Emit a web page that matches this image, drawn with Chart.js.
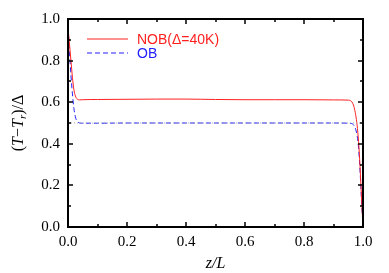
<!DOCTYPE html>
<html>
<head>
<meta charset="utf-8">
<script src="https://cdn.jsdelivr.net/npm/chart.js@4/dist/chart.umd.min.js"></script>
<style>
  html, body { margin: 0; padding: 0; background: #fff; }
  #wrap { width: 389px; height: 273px; }
</style>
</head>
<body>
<div id="wrap"><canvas id="grafico"></canvas></div>
<script>
// posições z/L
const zL = [0, 0.005, 0.01, 0.015, 0.02, 0.025, 0.03, 0.035, 0.04, 0.05, 0.1, 0.2, 0.3, 0.4, 0.5,
  0.6, 0.7, 0.8, 0.9, 0.95, 0.96, 0.965, 0.97, 0.975, 0.98, 0.985, 0.99, 0.995, 1.0];
// NOB (Δ=40K)
const nob = [0.96, 0.88, 0.8, 0.72, 0.66, 0.63, 0.617, 0.612, 0.611, 0.612, 0.613, 0.614, 0.615, 0.615, 0.613,
  0.612, 0.612, 0.612, 0.611, 0.61, 0.605, 0.595, 0.575, 0.54, 0.49, 0.41, 0.29, 0.14, 0.0];
// OB
const ob = [0.96, 0.84, 0.73, 0.64, 0.57, 0.53, 0.51, 0.503, 0.5, 0.499, 0.499, 0.5, 0.5, 0.5, 0.5,
  0.5, 0.5, 0.5, 0.5, 0.499, 0.498, 0.495, 0.487, 0.47, 0.44, 0.38, 0.27, 0.13, 0.0];
// linha de referência
const refX = [0, 1];
const refY = [0.5, 0.5];

const xTicks = [0, 0.2, 0.4, 0.6, 0.8, 1.0];
const yTicks = [0, 0.2, 0.4, 0.6, 0.8, 1.0];
const legendas = ["NOB(\u0394=40K)", "OB"];

const serif = "'Liberation Serif', 'Times New Roman', serif";

function pontos(xs, ys) {
  return xs.map((x, i) => ({ x: x, y: ys[i] }));
}

// ticks para dentro nos quatro lados + legenda + título do eixo y
const moldura = {
  id: "moldura",
  afterDraw(chart) {
    const ctx = chart.ctx;
    const a = chart.chartArea;
    const sx = chart.scales.x, sy = chart.scales.y;
    ctx.save();
    ctx.strokeStyle = "#000";
    ctx.lineWidth = 2;
    ctx.strokeRect(a.left, a.top, a.right - a.left, a.bottom - a.top);
    ctx.lineWidth = 1.5;
    for (let i = 0; i <= 10; i++) {
      const v = i / 10;
      const len = i % 2 === 0 ? 5 : 3;
      const px = Math.round(sx.getPixelForValue(v));
      const py = Math.round(sy.getPixelForValue(v));
      ctx.beginPath();
      ctx.moveTo(px, a.bottom); ctx.lineTo(px, a.bottom - len);
      ctx.moveTo(px, a.top); ctx.lineTo(px, a.top + len);
      ctx.moveTo(a.left, py); ctx.lineTo(a.left + len, py);
      ctx.moveTo(a.right, py); ctx.lineTo(a.right - len, py);
      ctx.stroke();
    }

    // legenda
    const itens = [
      { txt: legendas[0], cor: "#ff2020", dash: [] },
      { txt: legendas[1], cor: "#2020ff", dash: [5, 3] }
    ];
    ctx.font = "14px 'Liberation Sans', Arial, sans-serif";
    ctx.textBaseline = "middle";
    itens.forEach((it, i) => {
      const y = a.top + 20 + i * 14;
      ctx.strokeStyle = it.cor;
      ctx.lineWidth = 1;
      ctx.setLineDash(it.dash);
      ctx.beginPath();
      ctx.moveTo(a.left + 19, y); ctx.lineTo(a.left + 60, y);
      ctx.stroke();
      ctx.setLineDash([]);
      ctx.fillStyle = it.cor;
      ctx.fillText(it.txt, a.left + 69, y + 1);
    });

    // título do eixo y: (T−T_r)/Δ
    ctx.translate(19, (a.top + a.bottom) / 2);
    ctx.rotate(-Math.PI / 2);
    ctx.fillStyle = "#000";
    ctx.textBaseline = "middle";
    const partes = [
      { t: "(", f: "16px " + serif, dy: 0 },
      { t: "T", f: "italic 16px " + serif, dy: 0 },
      { t: "\u2212", f: "16px " + serif, dy: 0 },
      { t: "T", f: "italic 16px " + serif, dy: 0 },
      { t: "r", f: "italic 11px " + serif, dy: 4 },
      { t: ")/\u0394", f: "16px " + serif, dy: 0 }
    ];
    let total = 0;
    partes.forEach(p => { ctx.font = p.f; total += ctx.measureText(p.t).width; });
    let x0 = -total / 2;
    partes.forEach(p => {
      ctx.font = p.f;
      ctx.fillText(p.t, x0, p.dy);
      x0 += ctx.measureText(p.t).width;
    });
    ctx.restore();
  }
};

new Chart(document.getElementById("grafico"), {
  type: "scatter",
  data: {
    datasets: [
      {
        data: pontos(refX, refY),
        showLine: true,
        borderColor: "#aaaaaa",
        borderWidth: 1,
        borderDash: [1, 2],
        pointRadius: 0
      },
      {
        label: legendas[0],
        data: pontos(zL, nob),
        showLine: true,
        clip: false,
        borderColor: "#ff2020",
        borderWidth: 1,
        pointRadius: 0,
        cubicInterpolationMode: "monotone"
      },
      {
        label: legendas[1],
        data: pontos(zL, ob),
        showLine: true,
        clip: false,
        borderColor: "#2020ff",
        borderWidth: 1,
        borderDash: [5, 3],
        pointRadius: 0,
        cubicInterpolationMode: "monotone"
      }
    ]
  },
  options: {
    responsive: true,
    maintainAspectRatio: false,
    animation: false,
    layout: { padding: { top: 19, right: 26, left: 0, bottom: 0 } },
    plugins: {
      legend: { display: false },
      tooltip: { enabled: false }
    },
    scales: {
      x: {
        type: "linear",
        min: 0,
        max: 1,
        afterBuildTicks: s => { s.ticks = xTicks.map(v => ({ value: v })); },
        afterFit: s => { s.height = 46; },
        grid: { display: false, drawTicks: false },
        border: { display: false },
        ticks: {
          color: "#000",
          padding: 6,
          maxRotation: 0,
          font: { family: serif, size: 15 },
          callback: v => v.toFixed(1)
        },
        title: {
          display: true,
          text: "z/L",
          color: "#000",
          padding: { top: 4, bottom: 0 },
          font: { family: serif, size: 16, style: "italic" }
        }
      },
      y: {
        type: "linear",
        min: 0,
        max: 1,
        afterBuildTicks: s => { s.ticks = yTicks.map(v => ({ value: v })); },
        afterFit: s => { s.width = 68; },
        grid: { display: false, drawTicks: false },
        border: { display: false },
        ticks: {
          color: "#000",
          padding: 8,
          font: { family: serif, size: 15 },
          callback: v => v.toFixed(1)
        }
      }
    }
  },
  plugins: [moldura]
});
</script>
</body>
</html>
